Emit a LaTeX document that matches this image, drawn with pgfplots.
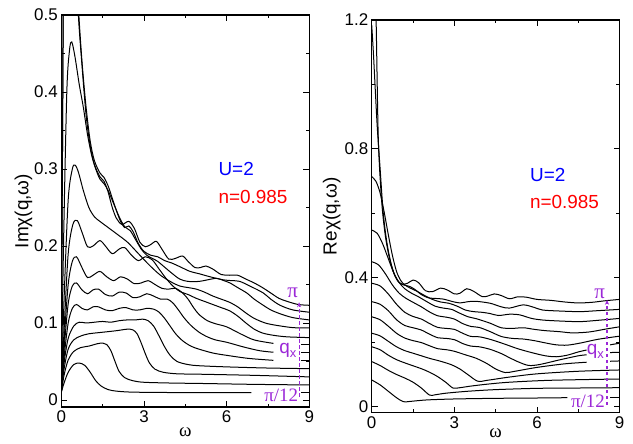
\documentclass[border=0pt]{standalone}
\usepackage{fontspec}
\setmainfont{Liberation Sans}
\newfontfamily\serif{Liberation Serif}
\usepackage{pgfplots}
\usepackage{pgfplotstable}
\pgfplotsset{compat=1.18}
\usetikzlibrary{arrows.meta}
\definecolor{lab}{RGB}{155,40,215}

% ---- Im chi, one table per q (C1 = pi/12 ... C12 = pi)
\pgfplotstableread{
w v
0 0.010
0.1 0.022
0.25 0.036
0.45 0.046
0.65 0.048
0.85 0.045
1.05 0.036
1.25 0.025
1.45 0.018
1.7 0.0135
2.0 0.0115
2.5 0.0103
3.5 0.0098
5 0.0096
6.9 0.0095
8.7 0.0095
9 0.0095
}\LA
\pgfplotstableread{
w v
0 0.010
0.1 0.032
0.25 0.052
0.45 0.063
0.7 0.068
1.0 0.070
1.3 0.073
1.5 0.074
1.65 0.072
1.8 0.064
1.95 0.050
2.1 0.037
2.3 0.029
2.6 0.025
3.0 0.023
4 0.022
5 0.0215
7 0.0203
9 0.0195
}\LB
\pgfplotstableread{
w v
0 0.010
0.1 0.040
0.25 0.066
0.45 0.078
0.7 0.083
1.0 0.086
1.5 0.088
2.0 0.090
2.4 0.092
2.6 0.091
2.75 0.086
2.9 0.074
3.05 0.060
3.2 0.048
3.4 0.040
3.7 0.036
4.2 0.034
5 0.0335
7 0.032
9 0.030
}\LC
\pgfplotstableread{
w v
0 0.010
0.1 0.048
0.25 0.080
0.45 0.096
0.65 0.101
0.9 0.100
1.2 0.101
1.5 0.102
1.8 0.101
2.1 0.103
2.4 0.104
2.7 0.104
2.95 0.105
3.15 0.103
3.35 0.096
3.55 0.083
3.75 0.069
3.95 0.058
4.2 0.050
4.6 0.046
5 0.0445
6 0.043
7.5 0.0415
9 0.0407
}\LD
\pgfplotstableread{
w v
0 0.010
0.1 0.055
0.25 0.100
0.4 0.119
0.55 0.124
0.75 0.119
0.95 0.117
1.15 0.121
1.35 0.121
1.6 0.117
1.85 0.116
2.1 0.119
2.35 0.120
2.6 0.117
2.85 0.117
3.1 0.119
3.35 0.118
3.55 0.114
3.75 0.106
3.95 0.096
4.15 0.086
4.4 0.077
4.7 0.070
5 0.066
5.5 0.061
6 0.058
6.8 0.054
7.7 0.0515
8.7 0.051
9 0.051
}\LE
\pgfplotstableread{
w v
0 0.010
0.1 0.065
0.25 0.125
0.4 0.148
0.55 0.152
0.75 0.143
0.95 0.138
1.15 0.143
1.35 0.144
1.6 0.137
1.85 0.135
2.1 0.140
2.35 0.139
2.6 0.133
2.85 0.134
3.1 0.138
3.35 0.135
3.6 0.131
3.85 0.131
4.05 0.126
4.25 0.117
4.45 0.107
4.7 0.097
5.0 0.088
5.3 0.082
5.6 0.078
6.0 0.075
6.6 0.069
7.2 0.064
7.7 0.062
8.7 0.062
9 0.062
}\LF
\pgfplotstableread{
w v
0 0.010
0.1 0.075
0.25 0.150
0.4 0.180
0.55 0.186
0.75 0.172
0.95 0.159
1.15 0.162
1.4 0.167
1.65 0.160
1.9 0.155
2.15 0.160
2.4 0.157
2.65 0.151
2.9 0.152
3.15 0.155
3.4 0.150
3.65 0.145
3.9 0.144
4.15 0.145
4.4 0.139
4.6 0.131
4.8 0.120
5.0 0.111
5.3 0.103
5.6 0.099
6.0 0.095
6.5 0.086
7.0 0.078
7.7 0.0735
8.7 0.0727
9 0.0727
}\LG
\pgfplotstableread{
w v
0 0.010
0.1 0.09
0.25 0.19
0.42 0.228
0.58 0.233
0.75 0.218
0.95 0.199
1.15 0.200
1.4 0.207
1.6 0.200
1.85 0.190
2.1 0.196
2.3 0.198
2.55 0.188
2.8 0.181
3.05 0.186
3.3 0.182
3.55 0.170
3.8 0.158
4.05 0.148
4.3 0.141
4.6 0.137
4.9 0.132
5.2 0.128
5.5 0.124
5.8 0.120
6.1 0.116
6.4 0.109
6.7 0.100
7.0 0.092
7.3 0.087
7.7 0.084
8.2 0.082
9 0.081
}\LH
\pgfplotstableread{
w v
0 0.010
0.1 0.13
0.25 0.26
0.4 0.300
0.5 0.305
0.62 0.296
0.8 0.272
1.0 0.250
1.2 0.238
1.4 0.232
1.7 0.224
2.0 0.216
2.4 0.205
2.8 0.190
3.2 0.175
3.6 0.162
4.0 0.153
4.3 0.148
4.6 0.146
4.9 0.144
5.2 0.140
5.5 0.135
5.8 0.131
6.1 0.127
6.4 0.121
6.7 0.113
7.0 0.106
7.4 0.100
7.8 0.097
8.4 0.094
9 0.0935
}\LI
\pgfplotstableread{
w v
0 0.010
0.08 0.2
0.2 0.40
0.3 0.455
0.38 0.465
0.5 0.445
0.65 0.41
0.8 0.38
0.95 0.345
1.1 0.318
1.25 0.300
1.4 0.287
1.55 0.281
1.7 0.272
1.9 0.255
2.1 0.238
2.3 0.225
2.5 0.220
2.7 0.208
2.9 0.196
3.1 0.188
3.3 0.184
3.5 0.180
3.7 0.174
4.0 0.165
4.3 0.157
4.6 0.154
5.0 0.154
5.3 0.156
5.64 0.158
5.9 0.155
6.12 0.152
6.4 0.146
6.73 0.139
7.0 0.131
7.33 0.123
7.6 0.117
7.94 0.112
8.4 0.107
9 0.104
}\LJ
\pgfplotstableread{
w v
0 0.010
0.04 0.3
0.1 0.6
0.3 0.75
0.5 0.6
0.62 0.51
0.75 0.44
0.9 0.38
1.05 0.336
1.2 0.311
1.4 0.295
1.55 0.289
1.7 0.278
1.85 0.262
2.0 0.246
2.15 0.232
2.3 0.224
2.45 0.226
2.6 0.219
2.8 0.203
3.0 0.193
3.25 0.188
3.5 0.186
3.75 0.181
4.0 0.178
4.31 0.173
4.67 0.167
5.0 0.164
5.4 0.160
5.88 0.156
6.2 0.155
6.48 0.154
6.9 0.147
7.33 0.139
7.6 0.131
7.94 0.123
8.4 0.117
9 0.114
}\LK
\pgfplotstableread{
w v
0 0.010
0.04 0.3
0.1 0.6
0.3 0.75
0.5 0.6
0.62 0.5
0.75 0.435
0.9 0.37
1.05 0.330
1.2 0.306
1.4 0.290
1.55 0.284
1.7 0.270
1.85 0.250
2.0 0.236
2.2 0.228
2.45 0.232
2.65 0.223
2.85 0.205
3.05 0.199
3.25 0.202
3.45 0.206
3.65 0.196
3.9 0.183
4.15 0.184
4.4 0.187
4.6 0.180
4.85 0.172
5.05 0.172
5.25 0.174
5.5 0.170
5.8 0.163
6.1 0.162
6.4 0.162
6.7 0.157
7.0 0.152
7.3 0.146
7.6 0.139
7.9 0.132
8.2 0.128
8.6 0.124
9 0.123
}\LL

% ---- Re chi
\pgfplotstableread{
w v
0 0.083
0.3 0.068
0.6 0.048
0.9 0.028
1.15 0.0155
1.4 0.0165
2 0.021
3 0.024
4.5 0.026
6 0.027
7.1 0.028
8.65 0.029
9 0.029
}\RA
\pgfplotstableread{
w v
0 0.140
0.3 0.128
0.6 0.113
0.9 0.100
1.2 0.089
1.5 0.076
1.8 0.058
2.1 0.036
2.3 0.037
2.7 0.042
3.5 0.048
4.5 0.053
6 0.057
7.5 0.058
9 0.059
}\RB
\pgfplotstableread{
w v
0 0.186
0.3 0.177
0.6 0.160
0.9 0.146
1.2 0.136
1.5 0.127
1.8 0.118
2.1 0.107
2.4 0.093
2.7 0.075
2.95 0.058
3.2 0.059
3.6 0.064
4.2 0.070
5 0.076
6.5 0.082
9 0.086
}\RC
\pgfplotstableread{
w v
0 0.228
0.3 0.220
0.6 0.203
0.9 0.186
1.2 0.174
1.5 0.166
1.8 0.158
2.1 0.150
2.5 0.141
2.9 0.130
3.2 0.117
3.5 0.099
3.85 0.079
4.2 0.082
5 0.092
6 0.102
7.5 0.110
9 0.114
}\RD
\pgfplotstableread{
w v
0 0.279
0.3 0.270
0.6 0.250
0.9 0.228
1.2 0.213
1.5 0.205
1.8 0.199
2.1 0.189
2.4 0.180
2.7 0.177
3.0 0.172
3.4 0.161
3.8 0.150
4.2 0.133
4.5 0.117
4.85 0.106
5.2 0.110
6 0.122
7 0.133
7.8 0.138
8.65 0.141
9 0.142
}\RE
\pgfplotstableread{
w v
0 0.326
0.3 0.318
0.6 0.298
0.9 0.270
1.2 0.252
1.5 0.245
1.8 0.238
2.1 0.225
2.4 0.214
2.7 0.212
3.0 0.208
3.3 0.196
3.6 0.188
3.9 0.186
4.3 0.178
4.7 0.165
5.0 0.152
5.35 0.138
5.7 0.128
6.1 0.131
6.8 0.145
7.5 0.158
7.8 0.161
8.65 0.168
9 0.169
}\RF
\pgfplotstableread{
w v
0 0.383
0.3 0.375
0.6 0.350
0.9 0.318
1.2 0.293
1.5 0.280
1.8 0.272
2.1 0.258
2.4 0.246
2.7 0.243
3.0 0.240
3.3 0.228
3.6 0.218
3.9 0.217
4.3 0.209
4.8 0.195
5.3 0.180
5.8 0.168
6.3 0.158
6.7 0.155
7.1 0.160
7.5 0.170
7.8 0.176
8.65 0.192
9 0.197
}\RG
\pgfplotstableread{
w v
0 0.45
0.25 0.44
0.5 0.412
0.75 0.378
1.0 0.352
1.25 0.336
1.5 0.324
1.8 0.310
2.1 0.294
2.4 0.282
2.7 0.278
3.0 0.272
3.3 0.258
3.6 0.249
3.9 0.246
4.3 0.233
4.7 0.218
5.1 0.212
5.5 0.210
5.9 0.205
6.3 0.198
6.7 0.192
7.1 0.191
7.6 0.198
8.2 0.209
9 0.219
}\RH
\pgfplotstableread{
w v
0 0.548
0.2 0.538
0.4 0.505
0.6 0.46
0.8 0.415
1.0 0.385
1.2 0.366
1.45 0.352
1.7 0.341
2.0 0.326
2.3 0.312
2.6 0.306
2.9 0.302
3.2 0.290
3.5 0.279
3.8 0.273
4.3 0.259
4.7 0.245
5.1 0.243
5.5 0.245
5.9 0.240
6.3 0.236
6.8 0.233
7.3 0.229
7.9 0.232
8.5 0.241
9 0.248
}\RI
\pgfplotstableread{
w v
0 0.714
0.15 0.70
0.3 0.665
0.45 0.605
0.6 0.535
0.75 0.47
0.9 0.42
1.05 0.392
1.2 0.378
1.4 0.368
1.65 0.358
1.9 0.346
2.2 0.333
2.5 0.325
2.8 0.321
3.1 0.312
3.4 0.300
3.7 0.295
4.0 0.293
4.3 0.289
4.6 0.283
5.0 0.287
5.37 0.285
5.8 0.274
6.2 0.269
6.8 0.266
7.55 0.264
8.2 0.268
9 0.274
}\RJ
\pgfplotstableread{
w v
0 1.185
0.06 1.10
0.12 1.00
0.2 0.87
0.3 0.745
0.42 0.60
0.55 0.51
0.7 0.445
0.85 0.405
1.0 0.385
1.15 0.378
1.35 0.374
1.55 0.365
1.8 0.348
2.05 0.338
2.3 0.336
2.6 0.334
2.9 0.327
3.2 0.322
3.5 0.326
3.8 0.327
4.3 0.321
4.7 0.310
5.0 0.306
5.5 0.316
5.9 0.308
6.2 0.300
6.8 0.297
7.55 0.295
8.2 0.298
9 0.302
}\RK
\pgfplotstableread{
w v
0 1.8
0.1 1.38
0.16 1.2
0.24 0.83
0.36 0.64
0.48 0.54
0.62 0.47
0.78 0.42
0.95 0.39
1.1 0.38
1.3 0.383
1.5 0.393
1.7 0.385
1.95 0.360
2.2 0.357
2.5 0.368
2.75 0.362
3.0 0.350
3.2 0.352
3.45 0.366
3.7 0.358
4.0 0.342
4.2 0.343
4.45 0.350
4.7 0.345
5.0 0.335
5.3 0.341
5.6 0.340
6.0 0.333
6.5 0.330
7.0 0.325
7.5 0.322
8.0 0.324
8.5 0.329
9 0.333
}\RL

\pgfplotsset{
  chi/.style={
    scale only axis, width=248bp,
    xmin=0, xmax=9,
    xtick={0,3,6,9}, xticklabels={0,3,6,9},
    minor xtick={1.5,4.5,7.5},
    tick align=inside,
    major tick length=6bp, minor tick length=3.5bp,
    every tick/.style={black, line width=0.9bp},
    axis line style={line width=1.2bp},
    tick label style={font=\fontsize{17}{19}\selectfont},
    label style={font=\fontsize{19}{21}\selectfont},
    xlabel={\serif ω},
  },
  cur/.style={black, line width=1bp, smooth, no markers},
}

\begin{document}
\begin{tikzpicture}
\begin{axis}[chi, at={(61.3bp,37bp)}, anchor=south west, height=392bp,
  ymin=-0.0091, ymax=0.5,
  ytick={0,0.1,0.2,0.3,0.4,0.5}, yticklabels={0,0.1,0.2,0.3,0.4,0.5},
  minor ytick={0.05,0.15,0.25,0.35,0.45},
  ylabel={Imχ(q,ω)},
  xlabel style={at={(axis description cs:0.5,-0.064)}, anchor=center, inner sep=0pt},
  ylabel style={at={(axis description cs:-0.153,0.5)}, anchor=center}]
\addplot[cur, restrict x to domain=0:6.92] table {\LA};
\addplot[cur, restrict x to domain=8.68:9] table {\LA};
\addplot[cur] table {\LB};
\addplot[cur] table {\LC};
\addplot[cur] table {\LD};
\addplot[cur, restrict x to domain=0:7.72] table {\LE};
\addplot[cur, restrict x to domain=8.68:9] table {\LE};
\addplot[cur, restrict x to domain=0:7.72] table {\LF};
\addplot[cur, restrict x to domain=8.68:9] table {\LF};
\addplot[cur, restrict x to domain=0:7.72] table {\LG};
\addplot[cur, restrict x to domain=8.68:9] table {\LG};
\addplot[cur] table {\LH};
\addplot[cur] table {\LI};
\addplot[cur] table {\LJ};
\addplot[cur] table {\LK};
\addplot[cur] table {\LL};
\node[anchor=base west, text=blue, font=\fontsize{19}{22}\selectfont] at (axis cs:5.58,0.291) {U=2};
\node[anchor=base west, text=red, font=\fontsize{19}{22}\selectfont] at (axis cs:5.58,0.255) {n=0.985};
\node[text=lab, font=\serif\fontsize{21}{23}\selectfont] at (axis cs:8.4,0.139) {π};
\node[text=lab, font=\fontsize{19}{21}\selectfont] at (axis cs:8.22,0.064) {q\raisebox{-0.4ex}{\fontsize{13}{15}\selectfont x}};
\node[text=lab, font=\serif\fontsize{19}{22}\selectfont] at (axis cs:7.98,0.0055) {π/12};
\draw[lab, line width=1.2bp, dash pattern=on 3.5bp off 2.5bp, -{Stealth[length=5bp,width=4bp]}] (axis cs:8.63,0.004) -- (axis cs:8.63,0.127);
\end{axis}

\begin{axis}[chi, at={(371.7bp,31.3bp)}, anchor=south west, height=392.7bp,
  ymin=-0.0186, ymax=1.2,
  ytick={0,0.4,0.8,1.2}, yticklabels={0,0.4,0.8,1.2},
  minor ytick={0.2,0.6,1.0},
  ylabel={Reχ(q,ω)},
  xlabel style={at={(axis description cs:0.5,-0.052)}, anchor=center, inner sep=0pt},
  ylabel style={at={(axis description cs:-0.161,0.5)}, anchor=center}]
\addplot[cur, restrict x to domain=0:7.12] table {\RA};
\addplot[cur, restrict x to domain=8.62:9] table {\RA};
\addplot[cur] table {\RB};
\addplot[cur] table {\RC};
\addplot[cur] table {\RD};
\addplot[cur, restrict x to domain=0:7.82] table {\RE};
\addplot[cur, restrict x to domain=8.62:9] table {\RE};
\addplot[cur, restrict x to domain=0:7.82] table {\RF};
\addplot[cur, restrict x to domain=8.62:9] table {\RF};
\addplot[cur, restrict x to domain=0:7.82] table {\RG};
\addplot[cur, restrict x to domain=8.62:9] table {\RG};
\addplot[cur] table {\RH};
\addplot[cur] table {\RI};
\addplot[cur] table {\RJ};
\addplot[cur] table {\RK};
\addplot[cur] table {\RL};
\node[anchor=base west, text=blue, font=\fontsize{19}{22}\selectfont] at (axis cs:5.62,0.698) {U=2};
\node[anchor=base west, text=red, font=\fontsize{19}{22}\selectfont] at (axis cs:5.62,0.616) {n=0.985};
\node[text=lab, font=\serif\fontsize{21}{23}\selectfont] at (axis cs:8.27,0.350) {π};
\node[text=lab, font=\fontsize{19}{21}\selectfont] at (axis cs:8.12,0.172) {q\raisebox{-0.4ex}{\fontsize{13}{15}\selectfont x}};
\node[text=lab, font=\serif\fontsize{19}{22}\selectfont] at (axis cs:7.85,0.018) {π/12};
\draw[lab, line width=1.2bp, dash pattern=on 3.5bp off 2.5bp, -{Stealth[length=5bp,width=4bp]}] (axis cs:8.54,0.005) -- (axis cs:8.54,0.332);
\end{axis}
\pgfresetboundingbox
\path[use as bounding box] (0,0) rectangle (633bp,444bp);
\end{tikzpicture}
\end{document}
